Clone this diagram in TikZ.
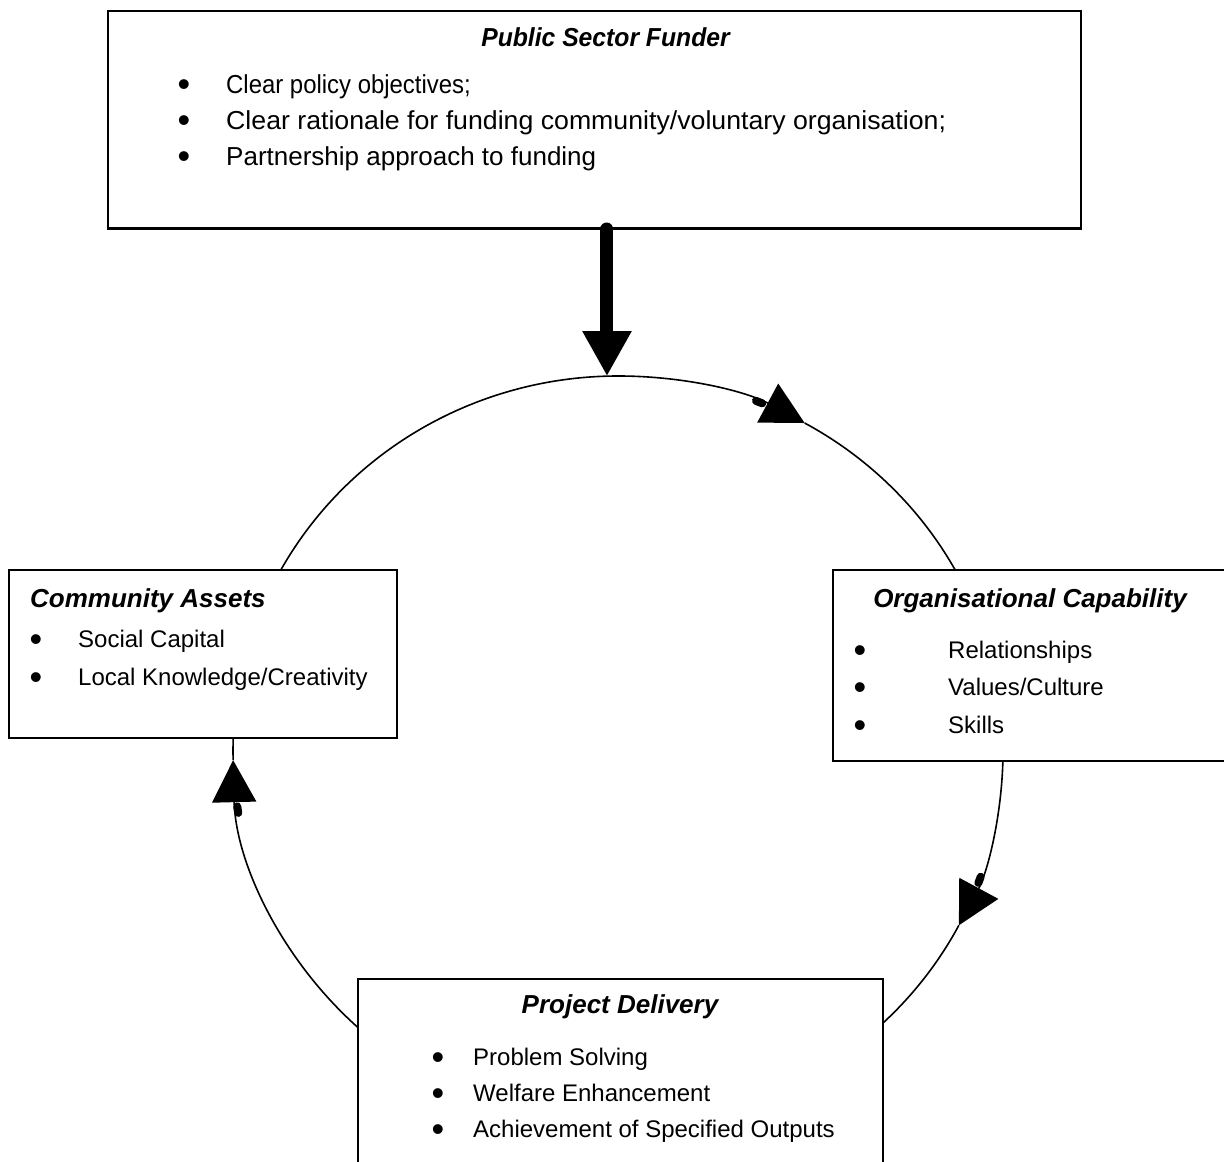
\documentclass[tikz,border=0pt]{standalone}
\usepackage{fontspec}
\usepackage{graphicx}
\setmainfont{Liberation Sans}
\usetikzlibrary{arrows.meta}
\begin{document}
\begin{tikzpicture}[x=1pt,y=-1pt,
  box/.style={draw, line width=2pt, fill=white, rectangle, inner sep=0pt, anchor=north west},
  title/.style={anchor=base, inner sep=0pt, font=\fontsize{26}{26}\selectfont\bfseries\itshape},
  item/.style={anchor=base west, inner sep=0pt, font=\fontsize{24}{24}\selectfont},
  bigitem/.style={item, font=\fontsize{26}{26}\selectfont},
  dot/.style={anchor=base, inner sep=0pt, font=\fontsize{36}{36}\selectfont},
  ring/.style={line width=1.6pt},
  ringtip/.style={ring, -{Triangle[width=44pt,length=42pt]}},
  blob/.style={line width=8pt, line cap=round},
  feed/.style={line width=13pt, line cap=round, -{Triangle[width=46pt,length=45pt]}},
]
\useasboundingbox (0,0) rectangle (1224,1162);
\clip (0,0) rectangle (1224,1162);

% centre of the cycle ellipse
\coordinate (ctr) at (618,751);
\path (ctr) ++(-91.64:385 and 375) coordinate (ftip);

% upper arc: Community Assets -> Organisational Capability
\draw[ringtip] (ctr) ++(-152:385 and 375) arc[start angle=-152, end angle=-61, x radius=385, y radius=375] coordinate (tipA);
\draw[ring] (tipA) arc[start angle=-61, end angle=-28, x radius=385, y radius=375];
\draw[blob] (ctr) ++(-69:385 and 375) arc[start angle=-69, end angle=-68, x radius=385, y radius=375];

% right arc: Organisational Capability -> Project Delivery
\draw[ringtip] (ctr) ++(0:385 and 375) arc[start angle=0, end angle=27.7, x radius=385, y radius=375] coordinate (tipB);
\draw[ring] (tipB) arc[start angle=27.7, end angle=48, x radius=385, y radius=375];
\draw[blob] (ctr) ++(19.6:385 and 375) arc[start angle=19.6, end angle=20.6, x radius=385, y radius=375];

% left arc: Project Delivery -> Community Assets
\draw[ringtip] (ctr) ++(132:385 and 375) arc[start angle=132, end angle=178.6, x radius=385, y radius=375] coordinate (tipC);
\draw[ring] (tipC) arc[start angle=178.6, end angle=183, x radius=385, y radius=375];
\draw[blob] (ctr) ++(170.5:385 and 375) arc[start angle=170.5, end angle=171.5, x radius=385, y radius=375];

% boxes
\node[box, minimum width=973, minimum height=217] (fund) at (107,10) {};
\node[box, minimum width=388, minimum height=168] (comm) at (8,569) {};
\node[box, minimum width=420, minimum height=191] (org) at (832,569) {};
\node[box, minimum width=525, minimum height=220] (proj) at (357,978) {};

% funding arrow into the cycle
\draw[feed] (ftip |- fund.south) -- (ftip);
\draw[line width=2pt] (fund.south west) -- (fund.south east);

% Public Sector Funder
\node[title] (fundT) at (605.5,46) {\scalebox{0.95}[1]{Public Sector Funder}};
\node[dot] (fundB1) at (184,96) {•};
\node[dot] (fundB2) at (184,132) {•};
\node[dot] (fundB3) at (184,168) {•};
\node[bigitem] (fund1) at (226,93) {\scalebox{0.92}[1]{Clear policy objectives;}};
\node[bigitem] (fund2) at (226,129) {\scalebox{1.027}[1]{Clear rationale for funding community/voluntary organisation;}};
\node[bigitem] (fund3) at (226,165) {Partnership approach to funding};

% Community Assets
\node[title, anchor=base west] (commT) at (30,607) {Community Assets};
\node[dot] (commB1) at (36,651) {•};
\node[dot] (commB2) at (36,689) {•};
\node[item] (comm1) at (78,647) {Social Capital};
\node[item] (comm2) at (78,685) {Local Knowledge/Creativity};

% Organisational Capability
\node[title] (orgT) at (1030,607) {Organisational Capability};
\node[dot] (orgB1) at (860,662) {•};
\node[dot] (orgB2) at (860,699) {•};
\node[dot] (orgB3) at (860,737) {•};
\node[item] (org1) at (948,658) {Relationships};
\node[item] (org2) at (948,695) {Values/Culture};
\node[item] (org3) at (948,733) {Skills};

% Project Delivery
\node[title] (projT) at (620,1013) {Project Delivery};
\node[dot] (projB1) at (438,1069) {•};
\node[dot] (projB2) at (438,1105) {•};
\node[dot] (projB3) at (438,1141) {•};
\node[item] (proj1) at (473,1065) {Problem Solving};
\node[item] (proj2) at (473,1101) {Welfare Enhancement};
\node[item] (proj3) at (473,1137) {Achievement of Specified Outputs};
\end{tikzpicture}
\end{document}
